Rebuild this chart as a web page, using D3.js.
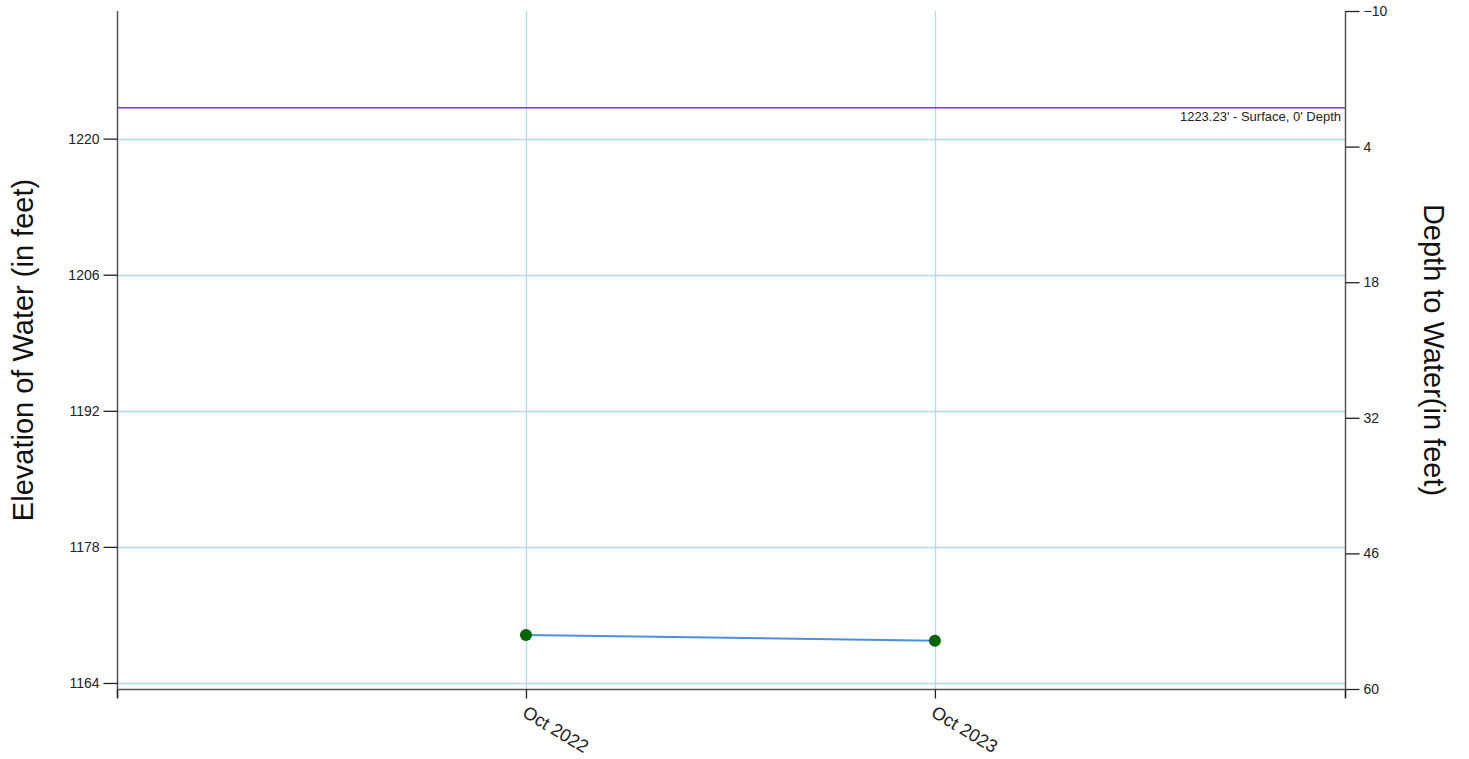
<!DOCTYPE html>
<html>
<head>
<meta charset="utf-8">
<script src="https://cdn.jsdelivr.net/npm/d3@7"></script>
<style>
  body { margin: 0; background: #fff; }
  text { font-family: "Liberation Sans", Arial, sans-serif; }
</style>
</head>
<body>
<div id="chart"></div>
<script>
  // data
  var dates = ["2022-10-01", "2023-10-01"];
  var depths = [54.42, 55.01];
  var surfaceElev = 1223.23;
  var elevTicks = [1164, 1178, 1192, 1206, 1220];
  var depthTicks = [-10, 4, 18, 32, 46, 60];
  var xTicks = ["2022-10-01", "2023-10-01"];
  var xDomain = ["2021-10-01", "2024-10-01"];

  var width = 1469, height = 759;
  var mLeft = 117, mRight = 1345, mTop = 11, mBottom = 689;

  var parse = d3.timeParse("%Y-%m-%d");

  var svg = d3.select("#chart").append("svg")
      .attr("width", width)
      .attr("height", height);

  var x = d3.scaleTime()
      .domain(xDomain.map(parse))
      .range([mLeft, mRight]);

  var yDepth = d3.scaleLinear().domain([-10, 60]).range([mTop, mBottom]);
  var yElev = d3.scaleLinear()
      .domain([surfaceElev + 9.9, surfaceElev - 59.85])
      .range([mTop, mBottom]);

  var gridColor = "#b2dce8";

  // grid
  svg.append("g").selectAll("line")
      .data(elevTicks).enter().append("line")
      .attr("x1", mLeft).attr("x2", mRight)
      .attr("y1", function(d) { return Math.round(yElev(d)) + 0.5; })
      .attr("y2", function(d) { return Math.round(yElev(d)) + 0.5; })
      .attr("stroke", gridColor).attr("stroke-width", 1.3);

  svg.append("g").selectAll("line")
      .data(xTicks).enter().append("line")
      .attr("x1", function(d) { return Math.round(x(parse(d))) + 0.5; })
      .attr("x2", function(d) { return Math.round(x(parse(d))) + 0.5; })
      .attr("y1", mTop).attr("y2", mBottom)
      .attr("stroke", gridColor).attr("stroke-width", 1.3);

  // surface line
  svg.append("line")
      .attr("x1", mLeft).attr("x2", mRight)
      .attr("y1", yElev(surfaceElev) + 0.5).attr("y2", yElev(surfaceElev) + 0.5)
      .attr("stroke", "#7b3fb3").attr("stroke-width", 1.3);
  svg.append("text")
      .attr("x", mRight - 4)
      .attr("y", yElev(surfaceElev) + 14)
      .attr("text-anchor", "end")
      .style("font-size", "13px")
      .attr("fill", "#222")
      .text(surfaceElev + "' - Surface, 0' Depth");

  // axes
  var yLeft = d3.axisLeft(yElev).tickValues(elevTicks).tickSize(14).tickPadding(4)
      .tickFormat(d3.format("d"));
  svg.append("g")
      .attr("transform", "translate(" + (mLeft + 0.5) + ",0)")
      .call(yLeft)
      .call(function(g) {
        g.select(".domain").attr("d", "M0," + mTop + "V" + (mBottom + 9));
      });

  var yRight = d3.axisRight(yDepth).tickValues(depthTicks).tickSize(14).tickPadding(4)
      .tickFormat(d3.format("d"));
  svg.append("g")
      .attr("transform", "translate(" + (mRight + 0.5) + ",0)")
      .call(yRight)
      .call(function(g) {
        g.select(".domain").attr("d", "M0," + mTop + "V" + (mBottom + 9));
      });

  var xAxis = d3.axisBottom(x)
      .tickValues(xDomain.concat(xTicks).map(parse))
      .tickSize(9)
      .tickFormat(function(d) {
        var s = d3.timeFormat("%Y-%m-%d")(d);
        return xTicks.indexOf(s) >= 0 ? d3.timeFormat("%b %Y")(d) : "";
      });
  var gx = svg.append("g")
      .attr("transform", "translate(0," + (mBottom + 0.5) + ")")
      .call(xAxis);
  gx.select(".domain").attr("d", "M" + mLeft + ",0H" + mRight);
  gx.selectAll(".tick text")
      .attr("text-anchor", "start")
      .attr("transform", "rotate(31)")
      .attr("x", 9)
      .attr("y", 19)
      .attr("dy", "0.35em");

  svg.selectAll(".domain").attr("stroke", "#555").attr("stroke-width", 1.5);
  svg.selectAll(".tick line").attr("stroke", "#222").attr("stroke-width", 1.3);
  svg.selectAll(".tick text").style("font-size", "14px").attr("fill", "#222");
  gx.selectAll(".tick text").style("font-size", "18px");

  // axis titles
  svg.append("text")
      .attr("transform", "translate(33,350) rotate(-90)")
      .attr("text-anchor", "middle")
      .style("font-size", "29px")
      .attr("fill", "#111")
      .text("Elevation of Water (in feet)");
  svg.append("text")
      .attr("transform", "translate(1424,350) rotate(90)")
      .attr("text-anchor", "middle")
      .style("font-size", "29px")
      .attr("fill", "#111")
      .text("Depth to Water(in feet)");

  // series
  var pts = dates.map(function(d, i) { return { date: parse(d), depth: depths[i] }; });
  var line = d3.line()
      .x(function(d) { return x(d.date); })
      .y(function(d) { return yDepth(d.depth); });

  svg.append("path")
      .datum(pts)
      .attr("d", line)
      .attr("fill", "none")
      .attr("stroke", "#4a8fe0")
      .attr("stroke-width", 2);

  svg.selectAll(".pt")
      .data(pts).enter().append("circle")
      .attr("class", "pt")
      .attr("cx", function(d) { return x(d.date); })
      .attr("cy", function(d) { return yDepth(d.depth); })
      .attr("r", 6)
      .attr("fill", "#006400");
</script>
</body>
</html>
